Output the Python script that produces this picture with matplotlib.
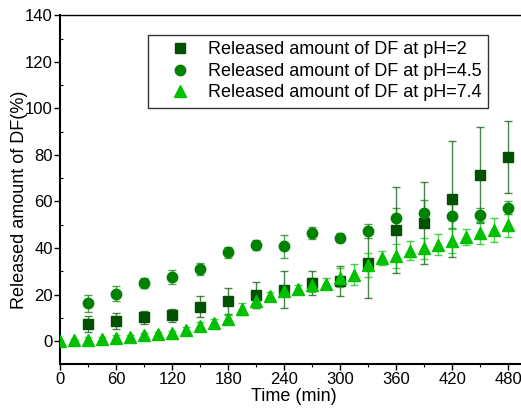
import matplotlib.pyplot as plt
from matplotlib.ticker import MultipleLocator

plt.rcParams['font.family'] = ['Liberation Sans', 'DejaVu Sans']

# Release data (time in min, released %)
t_ph2 = [30, 60, 90, 120, 150, 180, 210, 240, 270, 300, 330, 360, 390, 420, 450, 480]
y_ph2 = [7.4, 8.8, 10.3, 11.1, 14.8, 17.4, 19.8, 22.0, 25.0, 25.8, 33.4, 47.7, 50.8, 61.0, 71.3, 79.1]
e_ph2 = [3.5, 3.4, 2.8, 2.7, 4.6, 5.6, 5.7, 8.0, 5.0, 6.5, 15.0, 18.5, 17.7, 25.0, 20.5, 15.4]

t_ph45 = [30, 60, 90, 120, 150, 180, 210, 240, 270, 300, 330, 360, 390, 420, 450, 480]
y_ph45 = [16.3, 20.3, 24.9, 27.7, 30.9, 38.1, 41.3, 40.7, 46.3, 44.4, 47.4, 53.1, 55.0, 53.8, 54.1, 57.4]
e_ph45 = [3.7, 3.2, 2.0, 3.0, 2.5, 2.5, 2.3, 4.8, 2.6, 2.0, 3.0, 4.0, 5.5, 5.0, 3.0, 3.0]

t_ph74 = [0, 15, 30, 45, 60, 75, 90, 105, 120, 135, 150, 165, 180, 195, 210, 225, 240,
          255, 270, 285, 300, 315, 330, 345, 360, 375, 390, 405, 420, 435, 450, 465, 480]
y_ph74 = [0.0, 0.3, 0.6, 0.9, 1.5, 1.8, 2.4, 2.9, 3.3, 4.8, 6.5, 7.9, 9.3, 13.8, 17.3, 19.2, 21.6,
          22.3, 24.0, 24.7, 27.2, 28.6, 32.7, 35.6, 36.6, 38.8, 39.8, 41.3, 43.0, 44.6, 46.6, 47.7, 49.8]
e_ph74 = [0.5, 0.8, 1.0, 1.0, 1.0, 1.0, 1.0, 1.0, 1.2, 1.2, 1.5, 1.5, 2.0, 2.5, 3.0, 2.0, 2.0,
          2.0, 3.0, 2.5, 4.0, 4.5, 5.2, 3.0, 5.0, 4.0, 4.5, 4.5, 5.0, 3.5, 5.0, 5.0, 5.0]

labels = ["Released amount of DF at pH=2",
          "Released amount of DF at pH=4.5",
          "Released amount of DF at pH=7.4"]

fig = plt.figure(figsize=(5.21, 4.08), dpi=100)
ax = fig.add_axes([0.1157, 0.107, 0.8843, 0.8555])

c2, c45, c74 = "#005200", "#008200", "#00c000"

ax.errorbar(t_ph2, y_ph2, yerr=e_ph2, fmt="none", ecolor=c2, elinewidth=1, capsize=3, alpha=0.7, zorder=2)
ax.errorbar(t_ph45, y_ph45, yerr=e_ph45, fmt="none", ecolor=c45, elinewidth=1, capsize=3, alpha=0.7, zorder=2)
ax.errorbar(t_ph74, y_ph74, yerr=e_ph74, fmt="none", ecolor=c74, elinewidth=1, capsize=3, alpha=0.7, zorder=2)

ax.plot(t_ph2, y_ph2, "s", color=c2, ms=6.5, mec=c2, label=labels[0], zorder=3)
ax.plot(t_ph45, y_ph45, "o", color=c45, ms=7.5, mec=c45, label=labels[1], zorder=3)
ax.plot(t_ph74, y_ph74, "^", color=c74, ms=8, mec=c74, label=labels[2], zorder=3)

ax.set_xlim(0, 493.6)
ax.set_ylim(-10, 140)
ax.xaxis.set_major_locator(MultipleLocator(60))
ax.xaxis.set_minor_locator(MultipleLocator(30))
ax.yaxis.set_major_locator(MultipleLocator(20))
ax.yaxis.set_minor_locator(MultipleLocator(10))
ax.tick_params(axis="both", which="major", direction="out", length=4, width=1, labelsize=12, pad=1.5)
ax.tick_params(axis="x", which="minor", direction="out", length=2.5, width=0.8)
ax.tick_params(axis="y", which="minor", direction="in", length=2.5, width=0.8)
ax.spines["right"].set_visible(False)
for s in ["left", "bottom"]:
    ax.spines[s].set_linewidth(1.5)
ax.spines["top"].set_linewidth(1.0)

ax.set_xlabel("Time (min)", fontsize=13)
ax.set_ylabel("Released amount of DF(%)", fontsize=13)
ax.xaxis.set_label_coords(0.507, -0.068)
ax.yaxis.set_label_coords(-0.071, 0.471)

leg = ax.legend(loc="upper left", bbox_to_anchor=(0.19, 0.9435), fontsize=13, frameon=True,
                fancybox=False, edgecolor="black", handletextpad=0.1, borderpad=0.35,
                labelspacing=0.25, handlelength=2.9, borderaxespad=0)
leg.get_frame().set_linewidth(1.0)

fig.savefig("out.png", dpi=100)
